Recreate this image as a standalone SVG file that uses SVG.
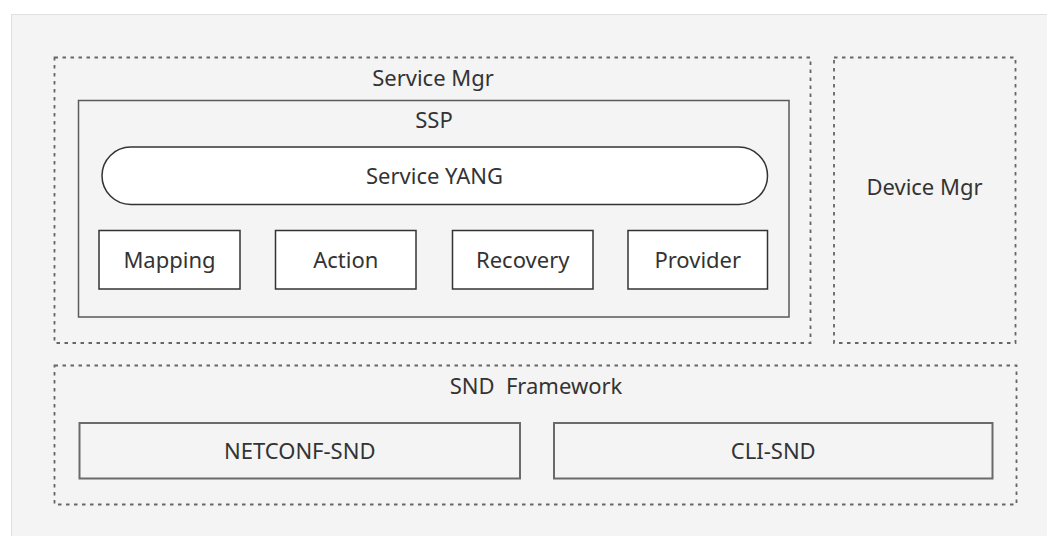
<svg xmlns="http://www.w3.org/2000/svg" width="1047" height="536" viewBox="0 0 1047 536">
  <style>
    .panel { fill: #f4f4f4; stroke: #e0e0e0; stroke-width: 1; }
    .group { fill: none; stroke: #666666; stroke-width: 1.8; stroke-dasharray: 3.5 4.5; }
    .frame { fill: none; stroke: #5a5a5a; stroke-width: 1.5; }
    .module { fill: #ffffff; stroke: #333333; stroke-width: 1.5; }
    .driver { fill: #f4f4f4; stroke: #6a6a6a; stroke-width: 2; }
    .label { font-family: "Noto Sans", "Open Sans", sans-serif; font-size: 22px; fill: #333333; text-anchor: middle; white-space: pre; }
  </style>

  <!-- page background -->
  <rect x="0" y="0" width="1047" height="536" fill="#ffffff"/>
  <rect class="panel" x="11.5" y="14.5" width="1040" height="530"/>

  <!-- Service Mgr container -->
  <g id="service-mgr">
    <rect class="group" x="54.5" y="57.5" width="756" height="285.5"/>
    <text class="label" x="433" y="86">Service Mgr</text>
  </g>

  <!-- SSP block inside Service Mgr -->
  <g id="ssp">
    <rect class="frame" x="78.5" y="100.5" width="710.5" height="216.5"/>
    <text class="label" x="434" y="128">SSP</text>
  </g>

  <g id="service-yang">
    <rect class="module" x="102" y="147" width="665.5" height="57.5" rx="28.75" ry="28.75"/>
    <text class="label" x="434.5" y="183.5">Service YANG</text>
  </g>

  <g id="mapping">
    <rect class="module" x="99" y="230.5" width="141" height="58.5"/>
    <text class="label" x="169.5" y="267.5">Mapping</text>
  </g>

  <g id="action">
    <rect class="module" x="275.5" y="230.5" width="140.5" height="58.5"/>
    <text class="label" x="345.75" y="267.5">Action</text>
  </g>

  <g id="recovery">
    <rect class="module" x="452.5" y="230.5" width="140.5" height="58.5"/>
    <text class="label" x="522.75" y="267.5">Recovery</text>
  </g>

  <g id="provider">
    <rect class="module" x="628" y="230.5" width="139.5" height="58.5"/>
    <text class="label" x="697.75" y="267.5">Provider</text>
  </g>

  <!-- Device Mgr container -->
  <g id="device-mgr">
    <rect class="group" x="834" y="57.5" width="181.5" height="285.5"/>
    <text class="label" x="924.5" y="195">Device Mgr</text>
  </g>

  <!-- SND Framework container -->
  <g id="snd-framework">
    <rect class="group" x="54.5" y="365.5" width="962" height="139"/>
    <text class="label" x="536" y="394">SND  Framework</text>
  </g>

  <g id="netconf-snd">
    <rect class="driver" x="79.5" y="423" width="440.5" height="55.5"/>
    <text class="label" x="299.75" y="458.5">NETCONF-SND</text>
  </g>

  <g id="cli-snd">
    <rect class="driver" x="554" y="423" width="438.5" height="55.5"/>
    <text class="label" x="773.25" y="458.5">CLI-SND</text>
  </g>

  <!-- the layout is nested containment only; no connectors are drawn -->
  <g id="connectors"/>
</svg>
